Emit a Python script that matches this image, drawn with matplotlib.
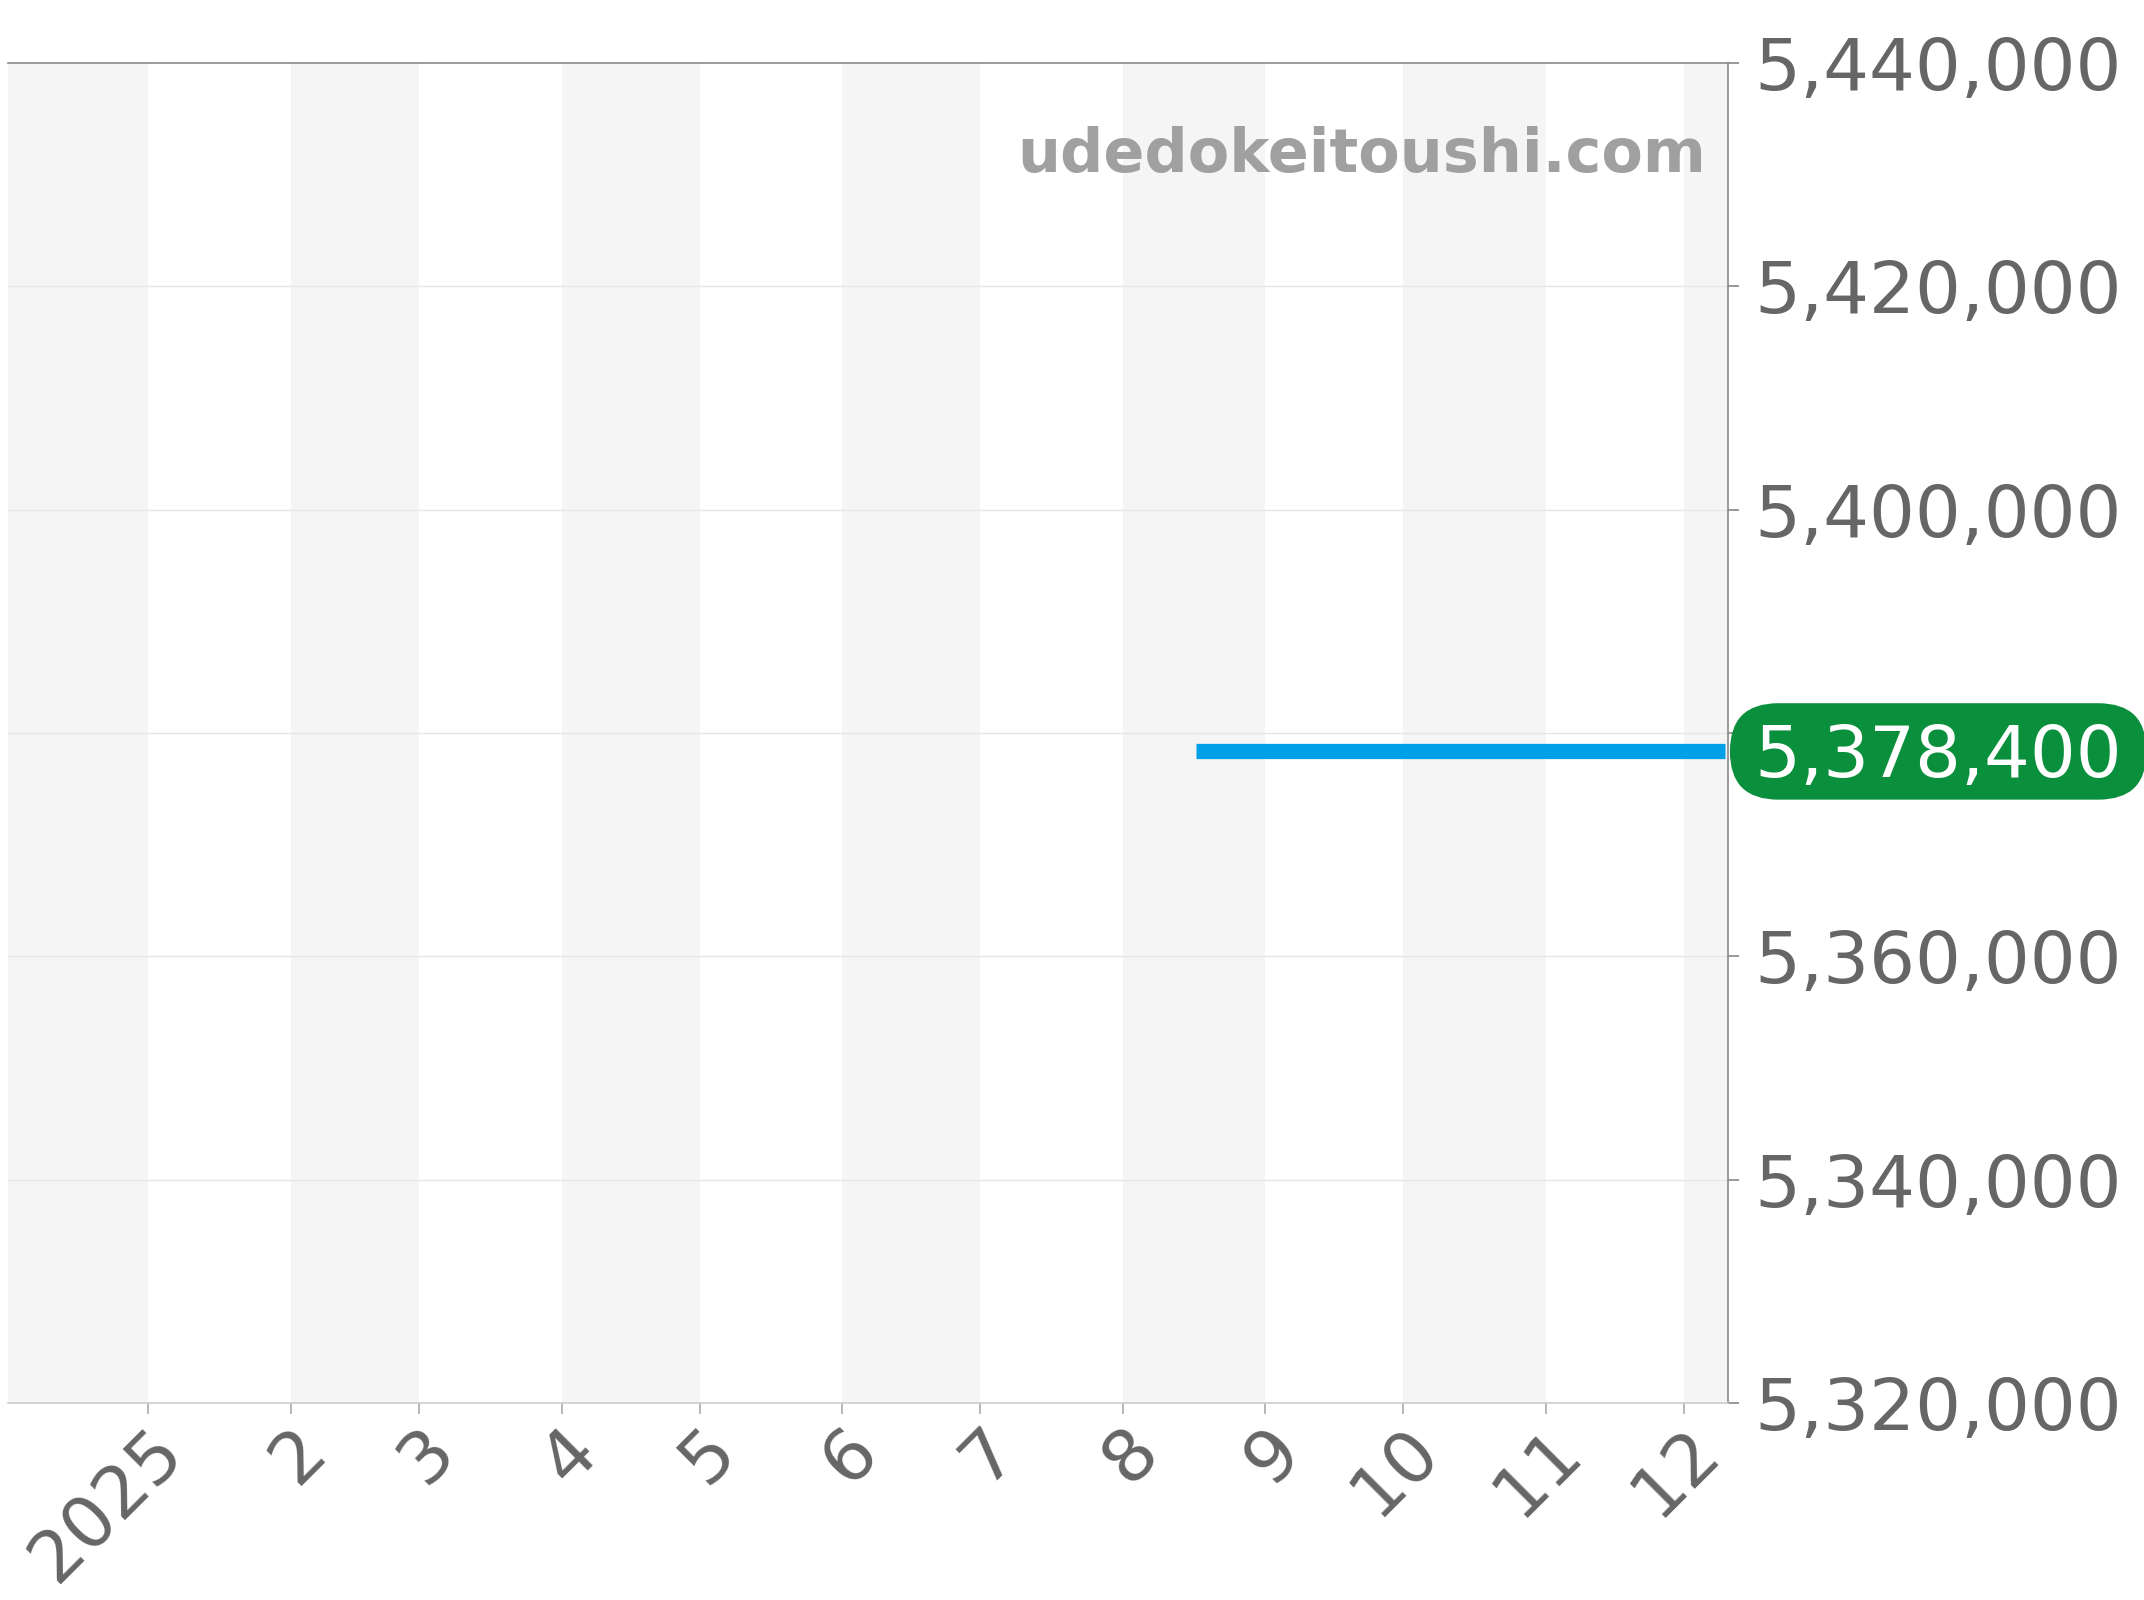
import matplotlib
matplotlib.use('Agg')
import matplotlib.pyplot as plt
from matplotlib.patches import BoxStyle
import pandas as pd

# datos
fechas = pd.to_datetime(['2025-08-17', '2025-12-10'])
precios = [5378400, 5378400]
ultimo = 5378400
meses = pd.date_range('2024-12-01', '2026-01-01', freq='MS')
etiquetas_x = ['2025', '2', '3', '4', '5', '6', '7', '8', '9', '10', '11', '12']
yticks = [5320000, 5340000, 5360000, 5380000, 5400000, 5420000, 5440000]

gris = '#666666'


def pastilla(x0, y0, w, h, mutation_size):
    # caja con extremos redondeados, mas ancha que alta
    px = 0.34 * mutation_size
    py = 0.19 * mutation_size
    dy = 0.09 * mutation_size
    r = (h + 2 * py) / 2
    return BoxStyle.Round(pad=0, rounding_size=r / mutation_size)(
        x0 - px, y0 - py + dy, w + 2 * px, h + 2 * py, mutation_size)


fig = plt.figure(figsize=(21.44, 16), dpi=100)
ax = fig.add_axes([0.0037, 0.123, 0.8023, 0.8376])

xmin = pd.Timestamp('2024-12-01 12:00')
xmax = pd.Timestamp('2025-12-10 16:00')

# bandas grises alternadas
for i in range(0, len(meses) - 1, 2):
    ax.axvspan(meses[i], meses[i + 1], color='#f5f5f5', lw=0, zorder=0)

for y in yticks[1:-1]:
    ax.axhline(y, color='#e6e6e6', lw=1, zorder=1)

ax.plot(fechas, precios, color='#00a0e9', lw=11, solid_capstyle='butt', zorder=3)

ax.set_xlim(xmin, xmax)
ax.set_ylim(5320000, 5440000)

ax.set_xticks(meses[1:13])
ax.set_xticklabels(etiquetas_x, rotation=45, ha='right', rotation_mode='anchor')
ax.set_yticks(yticks)
# la etiqueta 5,380,000 queda tapada por la del ultimo precio
ax.set_yticklabels(['' if v == 5380000 else f'{v:,}' for v in yticks])
ax.yaxis.tick_right()
ax.tick_params(axis='y', colors='#888888', labelcolor=gris, labelsize=52, length=8, width=1.2, pad=11)
ax.tick_params(axis='x', colors='#aaaaaa', labelcolor=gris, labelsize=52, length=8, width=1.2, pad=1)

ax.spines['left'].set_visible(False)
ax.spines['top'].set_color('#8a8a8a')
ax.spines['top'].set_linewidth(1.2)
ax.spines['right'].set_color('#8a8a8a')
ax.spines['right'].set_linewidth(1.2)
ax.spines['bottom'].set_color('#cccccc')
ax.spines['bottom'].set_linewidth(1.2)

ax.text(0.987, 0.9187, 'udedokeitoushi.com', transform=ax.transAxes, ha='right', va='baseline',
        fontsize=43.5, fontweight='bold', color='#a0a0a0', zorder=4)

# etiqueta del ultimo precio
ax.annotate(f'{ultimo:,}', xy=(1.0, ultimo), xycoords=('axes fraction', 'data'),
            xytext=(19, -5), textcoords='offset points', ha='left', va='center',
            fontsize=52, color='white', annotation_clip=False,
            bbox=dict(boxstyle=pastilla, fc='#0a8f3c', ec='none'))

fig.savefig('out.png', dpi=100)
